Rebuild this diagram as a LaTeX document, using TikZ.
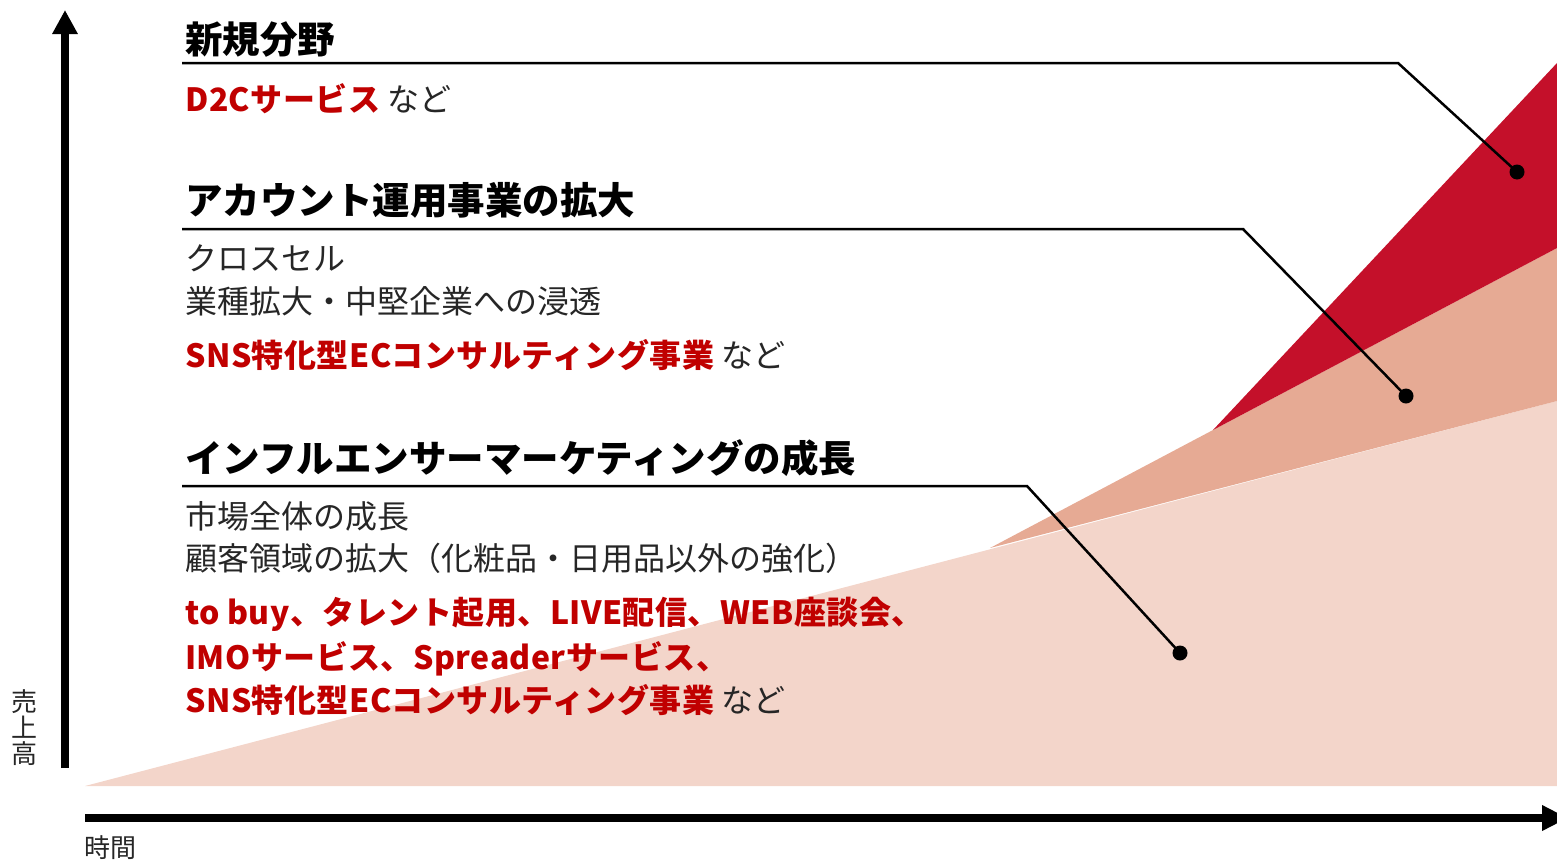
\documentclass[tikz,border=0pt]{standalone}
\usepackage{fontspec}
\setmainfont{Noto Sans CJK JP}
\usetikzlibrary{arrows.meta}
\definecolor{cred}{HTML}{C4102A}
\definecolor{cmid}{HTML}{E6AA94}
\definecolor{clight}{HTML}{F3D5CA}
\definecolor{tred}{HTML}{C00000}
\definecolor{tgray}{HTML}{262626}
\newcommand{\rb}[1]{{\color{tred}\bfseries\addfontfeature{LetterSpace=1.5}#1}}
\begin{document}
\begin{tikzpicture}[x=1pt,y=-1pt,
  head/.style={anchor=base west, inner sep=0pt, font=\fontsize{37.5}{44}\selectfont\bfseries, text=black},
  body/.style={anchor=base west, inner sep=0pt, font=\fontsize{32}{38}\selectfont, text=tgray},
  leader/.style={line width=2.5pt, line join=miter},
  dot/.style={circle, fill=black, inner sep=0pt, minimum size=15pt},
  axis/.style={line width=8pt},
  axlabel/.style={inner sep=0pt, font=\fontsize{26}{27}\selectfont, text=tgray}]
\useasboundingbox (0,0) rectangle (1557,860);
% growth areas
\fill[clight] (85,786) -- (1557,401) -- (1557,786) -- cycle;
\fill[cmid] (990,548) -- (1213,430) -- (1557,248) -- (1557,401) -- cycle;
\fill[cred] (1213,430) -- (1557,63) -- (1557,248) -- cycle;
% axes
\coordinate (yb) at (65,768);
\coordinate (yt) at (65,10);
\coordinate (xl) at (85,818);
\coordinate (xr) at (1568,818);
\draw[axis, -{Triangle[length=24pt,width=24pt]}] (yb) -- (yt);
\draw[axis, -{Triangle[length=26pt,width=24pt]}] (xl) -- (xr);
\node[axlabel, align=center, anchor=center] (ylab) at (25,728) {売\\[-1pt]上\\[-1pt]高};
\node[axlabel, anchor=west] (xlab) at (84,848) {時間};
% texts
\node[head] (h1) at (185,53) {新規分野};
\node[body] (t1) at (185,111) {\rb{D2Cサービス} など};
\node[head] (h2) at (185,214) {アカウント運用事業の拡大};
\node[body] (t2a) at (185,270) {クロスセル};
\node[body] (t2b) at (185,313) {業種拡大・中堅企業への浸透};
\node[body] (t2c) at (185,367) {\rb{SNS特化型ECコンサルティング事業} など};
\node[head] (h3) at (185,472) {インフルエンサーマーケティングの成長};
\node[body] (t3a) at (185,528) {市場全体の成長};
\node[body] (t3b) at (185,570) {顧客領域の拡大（化粧品・日用品以外の強化）};
\node[body] (t3c) at (185,624) {\rb{to buy、タレント起用、LIVE配信、WEB座談会、}};
\node[body] (t3d) at (185,669) {\rb{IMOサービス、Spreaderサービス、}};
\node[body] (t3e) at (185,712) {\rb{SNS特化型ECコンサルティング事業} など};
% leaders
\coordinate (l1s) at (182,63);
\coordinate (l1c) at (1398,63);
\node[dot] (d1) at (1517,172) {};
\coordinate (l2s) at (182,229);
\coordinate (l2c) at (1243,229);
\node[dot] (d2) at (1406,396) {};
\coordinate (l3s) at (182,486);
\coordinate (l3c) at (1027,486);
\node[dot] (d3) at (1180,653) {};
\draw[leader] (l1s) -- (l1c) -- (d1.center);
\draw[leader] (l2s) -- (l2c) -- (d2.center);
\draw[leader] (l3s) -- (l3c) -- (d3.center);
\end{tikzpicture}
\end{document}
